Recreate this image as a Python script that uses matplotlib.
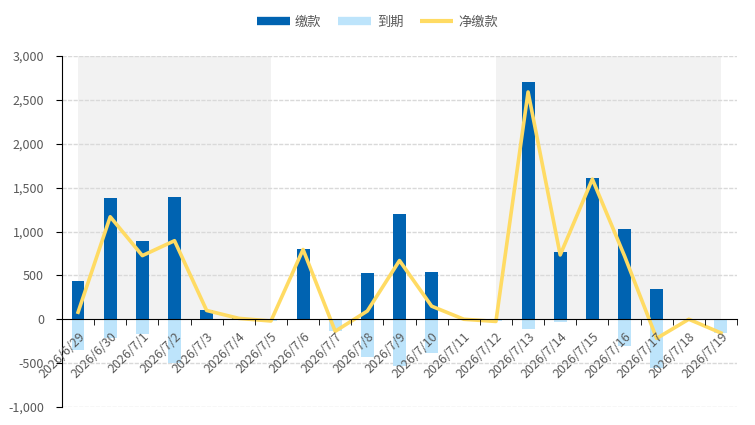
import numpy as np
from matplotlib import pyplot as plt
from matplotlib.lines import Line2D

plt.rcParams['font.family'] = ['Noto Sans CJK SC', 'DejaVu Sans']

# 日期
dates = ['2026/6/29', '2026/6/30', '2026/7/1', '2026/7/2', '2026/7/3', '2026/7/4', '2026/7/5',
         '2026/7/6', '2026/7/7', '2026/7/8', '2026/7/9', '2026/7/10', '2026/7/11', '2026/7/12',
         '2026/7/13', '2026/7/14', '2026/7/15', '2026/7/16', '2026/7/17', '2026/7/18', '2026/7/19']

# 缴款 / 到期 / 净缴款
paid = [433, 1380, 890, 1390, 103, 10, 0,
        795, 0, 524, 1197, 536, 0, 0,
        2700, 763, 1607, 1026, 342, 0, 0]
due = [-353, -217, -171, -501, -3, 0, -20,
       0, -137, -430, -528, -387, 0, -25,
       -110, -30, -10, -304, -560, 0, -156]
net = [80, 1168, 725, 895, 100, 10, -20,
       795, -137, 94, 669, 149, 0, -25,
       2590, 733, 1597, 722, -218, 0, -156]

# 灰色背景区间
shade_spans = [(0, 6), (13, 20)]

blue = '#0063b1'
light_blue = '#bde4fb'
yellow = '#ffdb63'
text_gray = '#595959'

fig = plt.figure(figsize=(7.55, 4.25), dpi=100)
ax = fig.add_axes([62/755, 18/425, 675/755, 351/425])

x = np.arange(len(dates))

for a, b in shade_spans:
    ax.fill_between([a, b], 0, 3000, color='#f2f2f2', zorder=0, linewidth=0)

for y in np.arange(-1000, 3001, 500):
    if y != 0:
        ax.axhline(y, color='#d9d9d9', linestyle=(0, (3, 1)), linewidth=1, zorder=0.5)

ax.bar(x, paid, width=0.4, color=blue, zorder=2)
ax.bar(x, due, width=0.4, color=light_blue, zorder=2)
ax.plot(x, net, color=yellow, linewidth=2.6, zorder=3)

ax.set_xlim(-0.5, len(dates) - 0.5)
ax.set_ylim(-1000, 3000)
ax.set_yticks(np.arange(-1000, 3001, 500))
ax.set_yticklabels(['{:,}'.format(v) for v in range(-1000, 3001, 500)])

ax.spines['bottom'].set_position(('data', 0))
ax.spines['bottom'].set_zorder(4)
ax.spines['top'].set_visible(False)
ax.spines['right'].set_visible(False)
# 标签画在柱子上面
ax.xaxis.set_zorder(5)

ax.set_xticks(x)
ax.set_xticklabels(dates, rotation=45, ha='right', rotation_mode='anchor', fontsize=9, color=text_gray)
ax.tick_params(axis='x', which='major', length=0, pad=8)
ax.set_xticks(np.arange(-0.5, len(dates)), minor=True)
ax.tick_params(axis='x', which='minor', length=4, direction='out')
ax.tick_params(axis='y', labelsize=9, labelcolor=text_gray, length=4, pad=9)

handles = [Line2D([], [], color=blue, linewidth=6, solid_capstyle='butt'),
           Line2D([], [], color=light_blue, linewidth=6, solid_capstyle='butt'),
           Line2D([], [], color=yellow, linewidth=3, solid_capstyle='butt')]
fig.legend(handles, ['缴款', '到期', '净缴款'], loc='center', bbox_to_anchor=(0.5, 0.948),
           ncol=3, frameon=False, fontsize=9.5, handlelength=2.5, columnspacing=1.3,
           handletextpad=0.4, labelcolor=text_gray)

plt.savefig('out.png', dpi=100)
